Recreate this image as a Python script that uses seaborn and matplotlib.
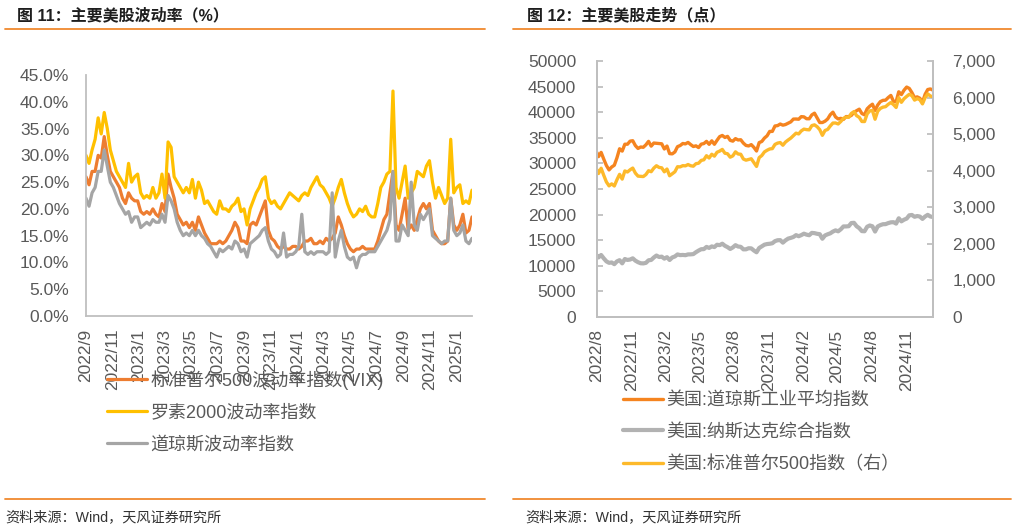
import numpy as np
import pandas as pd
import matplotlib
matplotlib.use("Agg")
import matplotlib.pyplot as plt
from matplotlib.lines import Line2D
from matplotlib.ticker import FixedLocator, FuncFormatter
import seaborn as sns

sns.set_style("white")
plt.rcParams["font.family"] = ["Liberation Sans", "Noto Sans CJK SC", "DejaVu Sans"]

# ---------------- data: left chart (weekly, from 2022-09-01) ----------------
vol_start = "2022-09-01"
vix = [26, 24.5, 27, 27, 30, 29.5, 33.5, 30, 27, 26,
       25, 24, 22, 21, 23, 22, 21.5, 21.5, 19.5, 19,
       19.5, 19, 20, 19, 18.5, 21, 19.5, 26.5, 24, 22,
       19, 18, 17, 17.5, 16.5, 17.5, 16, 18.5, 17, 15.5,
       14.5, 13.5, 13.5, 13.5, 14, 13.5, 14, 15, 16, 17.5,
       16.5, 14, 14, 13.5, 17, 17.5, 17, 18.5, 20, 21.5,
       16, 14.5, 14, 13, 12.5, 13, 12.5, 12.5, 13, 13,
       12.5, 13, 14, 14, 14.5, 13.5, 13.5, 14, 13.5, 14.5,
       14, 14.5, 15.5, 18.5, 17, 15, 13.5, 12.5, 12, 12.5,
       12.5, 13, 12.5, 12.5, 12.5, 12.5, 14, 16, 18, 19,
       23, 27, 17, 16, 19, 22, 16, 17, 16, 18,
       20, 21, 20, 21, 16, 15, 14, 13.5, 13.5, 14,
       22, 17, 16, 17, 19, 15.5, 16, 18.5]
rvx = [30, 28.5, 31, 33, 37, 34, 38, 35, 31, 29,
       27, 26, 25, 24, 28.5, 25, 26, 26.5, 23, 22,
       22.5, 22, 24, 22, 23, 26.5, 22, 32.5, 31.5, 26,
       25, 24, 23, 24, 23, 25.5, 22, 25, 23.5, 21,
       21.5, 20.5, 19.5, 19, 21.5, 20, 20, 19.5, 20.5, 21,
       22, 19.5, 20, 17, 20, 21.5, 23, 24, 25.5, 26,
       22, 21, 21.5, 20.5, 20, 21, 22, 23, 22.5, 22,
       21.5, 22.5, 23, 22.5, 24, 25, 26, 24.5, 24, 23,
       22, 20.5, 22, 24, 25.5, 23, 21, 19.5, 18.5, 19,
       20, 19.5, 20.5, 19, 18.5, 18.5, 21, 24, 25, 26.5,
       27, 42, 24, 22, 25, 28, 22, 23, 24, 27,
       26.5, 26, 28, 29, 25, 22, 24, 22.5, 21, 22,
       33, 23, 24, 24.5, 21, 21.5, 21, 23.5]
vxd = [22, 20.5, 23, 24, 27, 27, 31, 28, 25, 24,
       22.5, 21, 20, 19, 19.5, 17.5, 18.5, 18.5, 16.5, 17,
       17.5, 17, 18, 17.5, 17.5, 19, 17.5, 22.5, 21.5, 20,
       17.5, 16, 15, 15.5, 15, 16, 15, 16, 15, 14.5,
       13.5, 13, 12, 11, 12.5, 12, 12.5, 13, 12.5, 14,
       13.5, 12, 12.5, 11, 13.5, 14, 14.5, 15, 16, 16.5,
       14, 12.5, 12, 11, 11.5, 15.5, 11, 11.5, 11.5, 12,
       13, 19, 12, 11.5, 12, 11.5, 12, 12, 12, 11.5,
       12, 23, 11, 14, 16, 13, 11, 10.5, 11, 9,
       11, 11.5, 11.5, 12, 12, 12, 13, 14, 15, 16,
       18, 27, 14, 14, 17, 16, 15, 25, 17, 16,
       19, 18, 19, 20, 15, 14.5, 14, 13.5, 14, 14,
       22, 16, 15, 15.5, 17, 14, 13.5, 14.5]
vol_labels = ["标准普尔500波动率指数(VIX)", "罗素2000波动率指数", "道琼斯波动率指数"]

# ---------------- data: right chart (weekly, from 2022-08-29) ----------------
idx_start = "2022-08-29"
dow = [32099,
       31318, 32152, 30822, 29590, 28726, 29297, 29635, 31083, 32862, 32403,
       33748, 33746, 34347, 34430, 33477, 32921, 33204, 33147,
       33631, 34303, 33375, 33978, 33926, 33870, 33827, 32817, 33391, 31910,
       31862, 32238, 33274, 33486, 33887, 33809, 34098, 33675, 33301, 33427,
       33093, 33763, 33877, 34300, 33727, 34408, 33734, 34509, 35228, 35459,
       35066, 35281, 34500, 34346, 34838, 34577, 34618, 33964, 33508, 33407,
       33670, 33127, 32418, 34061, 34283, 34947, 35390, 36246, 36247, 37306,
       37385, 37690,
       37466, 37593, 37863, 38109, 38654, 38671, 38628, 39131, 39087, 38723,
       38715, 39475, 39807, 38904, 37983, 37986, 38240, 38676, 39513, 40004,
       39070, 38686, 38799, 38589, 39150, 39119, 39375, 40001, 40288, 40589,
       39737, 39497, 40660, 41175, 41563, 40345, 41394, 42063, 42313, 42353,
       42864, 43275, 42114, 42052, 43989, 43445, 44297, 44911, 44642, 43828,
       42840, 42992,
       42732, 41938, 43488, 44424, 44545, 44303]
nasdaq = [12017,
          11631, 12112, 11448, 10868, 10576, 10652, 10321, 10860, 11102, 10475,
          11323, 11146, 11226, 11461, 11005, 10705, 10497, 10466,
          10570, 11079, 11140, 11622, 12007, 11718, 11787, 11395, 11689, 11138,
          11631, 11824, 12222, 12088, 12123, 12072, 12227, 12235, 12284, 12658,
          12975, 13241, 13259, 13689, 13492, 13788, 13661, 14113, 14032, 14317,
          13909, 13645, 13290, 13590, 14031, 13761, 13708, 13212, 13219, 13431,
          13407, 12984, 12643, 13478, 13798, 14125, 14250, 14305, 14404, 14814,
          14993, 15011,
          14524, 14973, 15311, 15455, 15629, 15991, 15776, 15997, 16275, 16085,
          15973, 16429, 16379, 16249, 16175, 15282, 15928, 16156, 16341, 16686,
          16921, 16735, 17133, 17689, 17689, 17733, 18353, 18398, 17727, 17358,
          16776, 16745, 17632, 17877, 17714, 16691, 17684, 17948, 18120, 18138,
          18343, 18490, 18519, 18240, 19287, 18681, 19004, 19218, 19860, 19927,
          19573, 19722,
          19622, 19162, 19630, 19954, 19627, 19523]
spx = [4030,
       3924, 4067, 3873, 3693, 3586, 3640, 3583, 3753, 3901, 3771,
       3993, 3965, 4026, 4072, 3934, 3852, 3845, 3840,
       3895, 3999, 3973, 4071, 4136, 4090, 4079, 3970, 4046, 3862,
       3917, 3971, 4109, 4105, 4138, 4133, 4169, 4136, 4124, 4192,
       4205, 4282, 4299, 4410, 4348, 4450, 4399, 4505, 4536, 4582,
       4478, 4464, 4370, 4406, 4516, 4457, 4450, 4320, 4288, 4308,
       4327, 4224, 4117, 4358, 4415, 4514, 4559, 4595, 4604, 4719,
       4755, 4770,
       4697, 4784, 4840, 4891, 4959, 5027, 5006, 5089, 5137, 5124,
       5117, 5234, 5254, 5204, 5123, 4967, 5100, 5128, 5223, 5303,
       5305, 5278, 5347, 5432, 5465, 5460, 5567, 5615, 5505, 5459,
       5346, 5344, 5554, 5635, 5648, 5408, 5626, 5703, 5738, 5751,
       5815, 5864, 5808, 5729, 5996, 5870, 5969, 6032, 6090, 6051,
       5931, 5971,
       5942, 5827, 5997, 6101, 6041, 6026]
idx_labels = ["美国:道琼斯工业平均指数", "美国:纳斯达克综合指数", "美国:标准普尔500指数（右）"]

left_ticks = [0, 5, 10, 15, 20, 25, 30, 35, 40, 45]
right_ticks_l = [0, 5000, 10000, 15000, 20000, 25000, 30000, 35000, 40000, 45000, 50000]
right_ticks_r = [0, 1000, 2000, 3000, 4000, 5000, 6000, 7000]

titles = ["图 11：主要美股波动率（%）", "图 12：主要美股走势（点）"]
source = "资料来源：Wind，天风证券研究所"

# ---------------- styling ----------------
W, H = 1016, 528
ORANGE_RULE = "#F0892E"
SPINE = "#BFBFBF"
TXT = "#595959"
C_VIX, C_RVX, C_VXD = "#ED7D31", "#FFC000", "#A5A5A5"
C_DOW, C_NAS, C_SPX = "#F5841F", "#B2B2B2", "#FDB92A"

fig = plt.figure(figsize=(W / 100, H / 100), dpi=100)


def fbox(x0, y0, x1, y1):
    return [x0 / W, 1 - y1 / H, (x1 - x0) / W, (y1 - y0) / H]


# ---------- left chart ----------
axL = fig.add_axes(fbox(86, 75, 472, 316))
vol_dates = pd.date_range(vol_start, periods=len(vix), freq="7D")
for vals, col in [(vix, C_VIX), (rvx, C_RVX), (vxd, C_VXD)]:
    sns.lineplot(x=vol_dates, y=vals, ax=axL, color=col, linewidth=2.3, legend=False)
axL.set_xlim(vol_dates[0], vol_dates[-1])
axL.set_ylim(0, 45)
axL.yaxis.set_major_locator(FixedLocator(left_ticks))
axL.yaxis.set_major_formatter(FuncFormatter(lambda v, p: f"{v:.1f}%"))
vol_ticks = pd.date_range("2022-09-01", "2025-01-01", freq="2MS")
axL.set_xticks(vol_ticks)
axL.set_xticklabels([f"{d.year}/{d.month}" for d in vol_ticks], rotation=90)

# ---------- right chart ----------
axR = fig.add_axes(fbox(597, 61, 933, 317))
idx_dates = pd.DatetimeIndex([pd.Timestamp(idx_start)]).append(
    pd.date_range("2022-09-02", periods=len(dow) - 1, freq="7D"))
sns.lineplot(x=idx_dates, y=dow, ax=axR, color=C_DOW, linewidth=2.4, legend=False)
sns.lineplot(x=idx_dates, y=nasdaq, ax=axR, color=C_NAS, linewidth=3.0, legend=False)
axR2 = axR.twinx()
sns.lineplot(x=idx_dates, y=spx, ax=axR2, color=C_SPX, linewidth=2.4, legend=False)
axR.set_xlim(idx_dates[0], idx_dates[-1])
axR.set_ylim(0, 50000)
axR2.set_ylim(0, 7000)
axR.yaxis.set_major_locator(FixedLocator(right_ticks_l))
axR.yaxis.set_major_formatter(FuncFormatter(lambda v, p: f"{int(v)}"))
axR2.yaxis.set_major_locator(FixedLocator(right_ticks_r))
axR2.yaxis.set_major_formatter(FuncFormatter(lambda v, p: f"{int(v):,}"))
idx_ticks = pd.date_range(idx_start, periods=10, freq=pd.DateOffset(months=3))
axR.set_xticks(idx_ticks)
axR.set_xticklabels([f"{d.year}/{d.month}" for d in idx_ticks], rotation=90)

for ax in (axL, axR, axR2):
    ax.set_xlabel("")
    ax.set_ylabel("")
    for s in ax.spines.values():
        s.set_color(SPINE)
        s.set_linewidth(1.3)
    ax.tick_params(axis="x", direction="out", length=4, width=1.3, color=SPINE,
                   labelsize=12.5, labelcolor=TXT, pad=5)
    ax.tick_params(axis="y", direction="in", length=4, width=1.3, color=SPINE,
                   labelsize=12.5, labelcolor=TXT)
axL.spines["top"].set_visible(False)
axL.spines["right"].set_visible(False)
axL.tick_params(axis="y", pad=12)
axR.spines["top"].set_visible(False)
axR2.spines["top"].set_visible(False)
axR.tick_params(axis="y", pad=15)
axR2.tick_params(axis="y", pad=14)

# ---------- legends ----------
legL = fig.legend(axL.get_lines()[:3], vol_labels, loc="upper left",
                  bbox_to_anchor=(107 / W, 1 - 370 / H), frameon=False,
                  fontsize=13, handlelength=2.2, handletextpad=0.2,
                  labelspacing=0.82, borderpad=0, borderaxespad=0)
hR = [axR.get_lines()[0], axR.get_lines()[1], axR2.get_lines()[0]]
legR = fig.legend(hR, idx_labels, loc="upper left",
                  bbox_to_anchor=(623 / W, 1 - 392 / H), frameon=False,
                  fontsize=13, handlelength=2.2, handletextpad=0.2,
                  labelspacing=0.82, borderpad=0, borderaxespad=0)
for lg in (legL, legR):
    for t in lg.get_texts():
        t.set_color(TXT)

# ---------- titles, rules, sources ----------
for x, t in [(17, titles[0]), (527, titles[1])]:
    fig.text(x / W, 1 - 15 / H, t, fontsize=11.5, fontweight="bold",
             color="#1e1e1e", va="center", ha="left")
for (x0, x1) in [(5, 485), (513, 1011)]:
    for y in (29, 499):
        fig.add_artist(Line2D([x0 / W, x1 / W], [1 - y / H, 1 - y / H],
                              transform=fig.transFigure, color=ORANGE_RULE, lw=1.3))
for x in (5, 525):
    fig.text(x / W, 1 - 517 / H, source, fontsize=10.2, color="#333333",
             va="center", ha="left")

fig.savefig("out.png", dpi=100, facecolor="white")
